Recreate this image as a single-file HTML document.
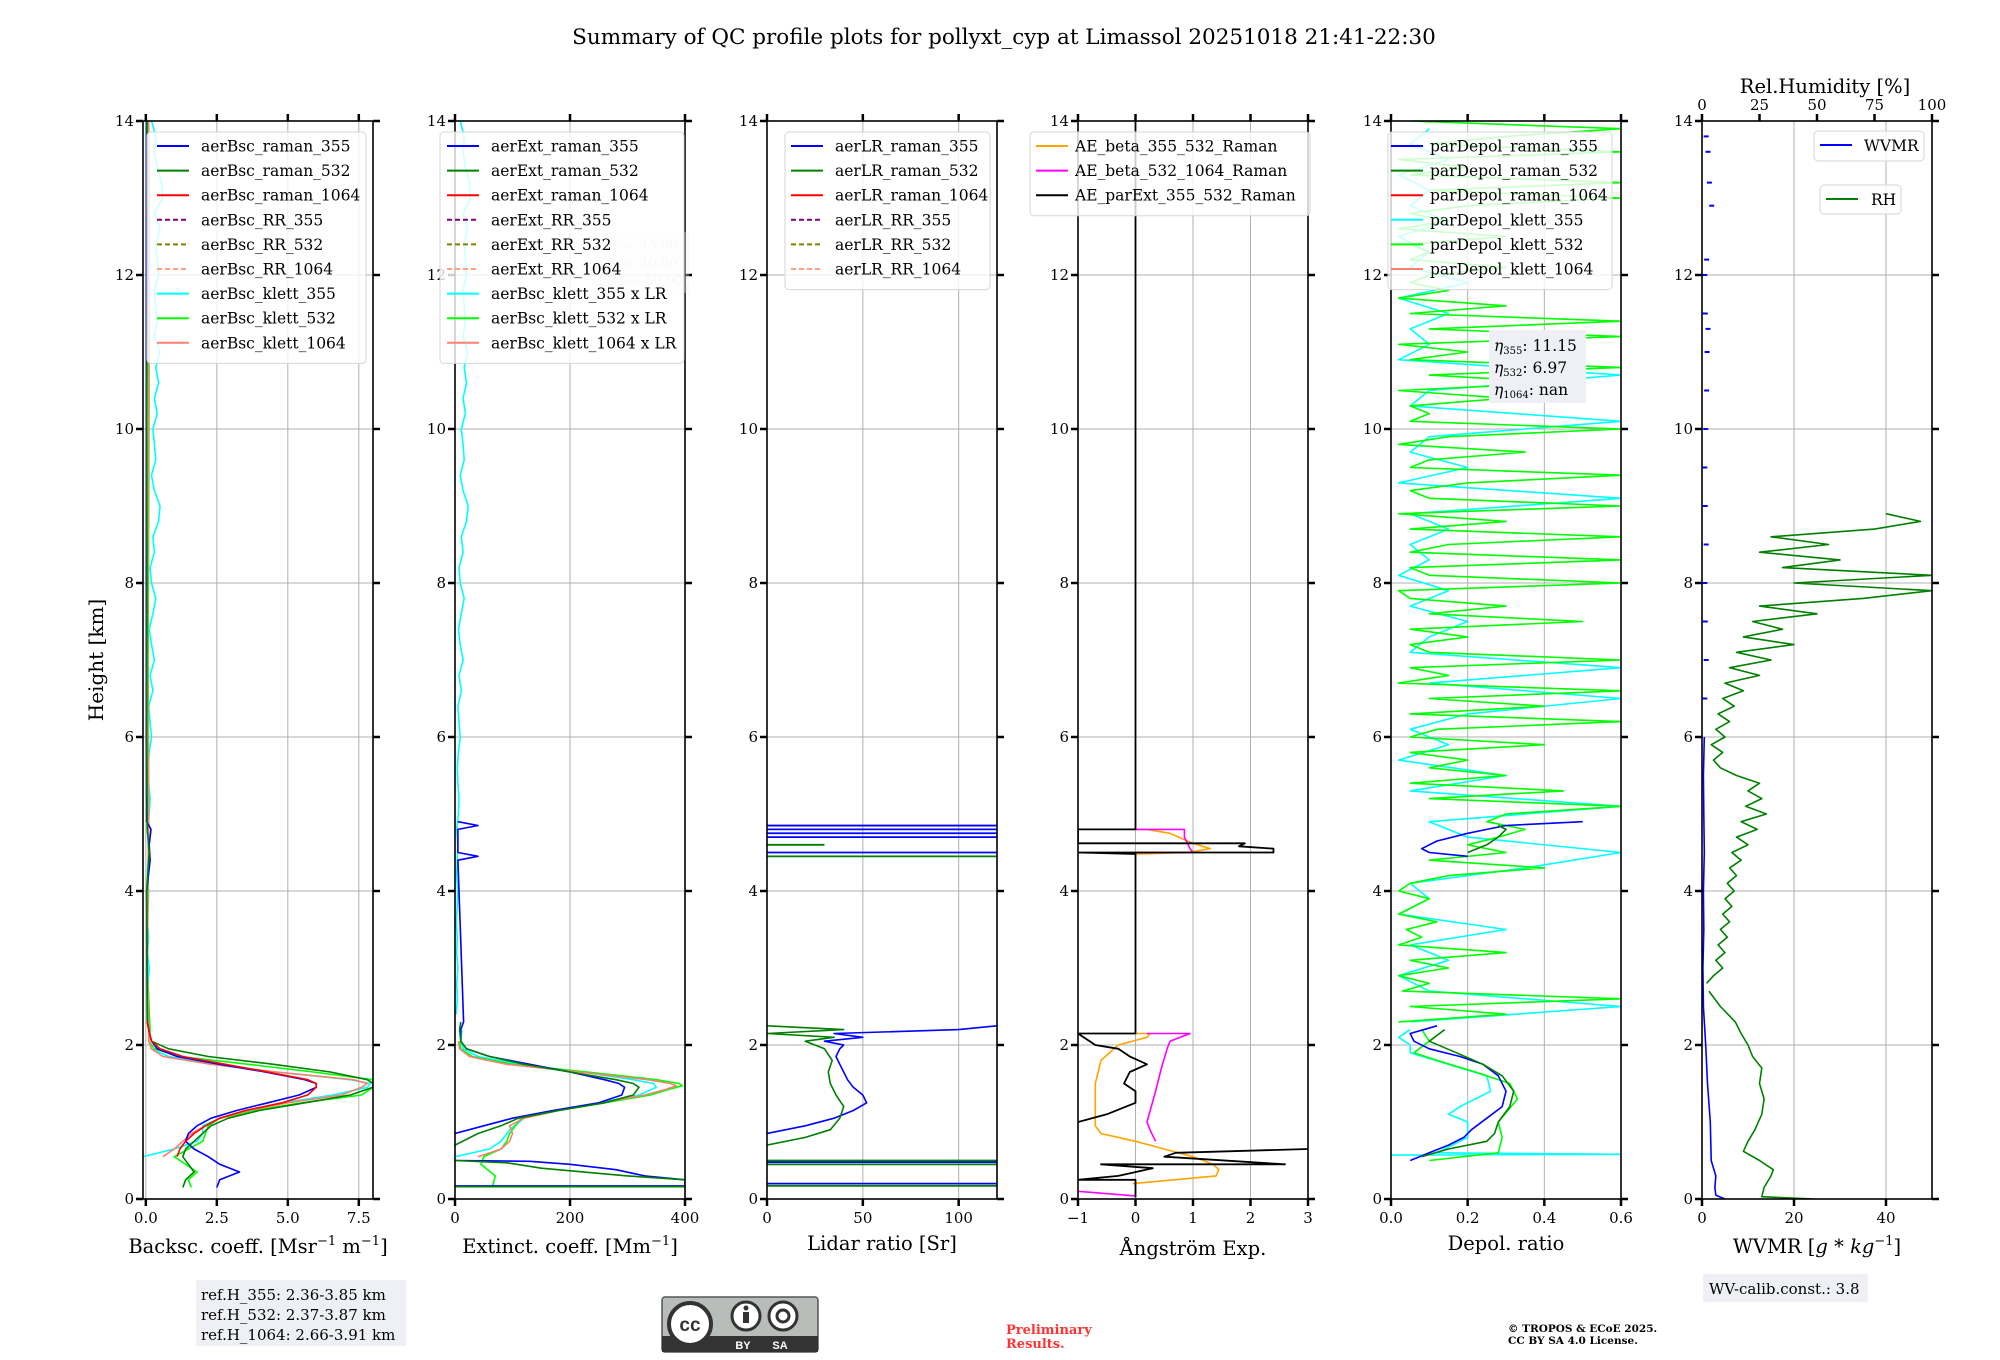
<!DOCTYPE html>
<html><head><meta charset="utf-8"><style>
html,body{margin:0;padding:0;background:#fff}
svg{display:block;font-family:"DejaVu Serif","Liberation Serif",serif}
</style></head><body>
<svg id="chart" width="2000" height="1360" viewBox="0 0 2000 1360" xmlns="http://www.w3.org/2000/svg">
<rect width="2000" height="1360" fill="#fff"/>
<text x="1004" y="44" font-size="21.5" text-anchor="middle">Summary of QC profile plots for pollyxt_cyp at Limassol 20251018 21:41-22:30</text>
<text transform="translate(103,660) rotate(-90)" font-size="20" text-anchor="middle">Height [km]</text>
<g id="panels"></g>
<g>
<rect x="196" y="1280" width="210" height="66" fill="#eef0f5"/>
<text x="201" y="1300" font-size="15">ref.H_355: 2.36-3.85 km</text>
<text x="201" y="1320" font-size="15">ref.H_532: 2.37-3.87 km</text>
<text x="201" y="1340" font-size="15">ref.H_1064: 2.66-3.91 km</text>
</g>
<g>
<rect x="662" y="1297" width="156" height="55" rx="3" fill="#b9bdb9" stroke="#555" stroke-width="1.5"/>
<rect x="662" y="1336" width="156" height="16" fill="#333"/>
<circle cx="690" cy="1324" r="21" fill="#fff" stroke="#333" stroke-width="4"/>
<text x="690" y="1331" font-family="Liberation Sans,sans-serif" font-weight="bold" font-size="19" text-anchor="middle" fill="#333">cc</text>
<circle cx="746" cy="1316" r="14" fill="#fff" stroke="#333" stroke-width="3"/>
<rect x="743" y="1312" width="6" height="11" fill="#333"/><circle cx="746" cy="1308" r="2.5" fill="#333"/>
<circle cx="783" cy="1316" r="14" fill="#fff" stroke="#333" stroke-width="3"/>
<circle cx="783" cy="1316" r="6" fill="none" stroke="#333" stroke-width="3"/>
<text x="743" y="1349" font-family="Liberation Sans,sans-serif" font-weight="bold" font-size="11" fill="#fff" text-anchor="middle">BY</text>
<text x="780" y="1349" font-family="Liberation Sans,sans-serif" font-weight="bold" font-size="11" fill="#fff" text-anchor="middle">SA</text>
</g>
<text x="1006" y="1334" font-size="13" font-weight="bold" fill="#ff3333">Preliminary</text>
<text x="1006" y="1348" font-size="13" font-weight="bold" fill="#ff3333">Results.</text>
<text x="1508" y="1332" font-size="10.5" font-weight="bold">© TROPOS &amp; ECoE 2025.</text>
<text x="1508" y="1344" font-size="10.5" font-weight="bold">CC BY SA 4.0 License.</text>
<g>
<rect x="1703" y="1274" width="165" height="28" fill="#eef0f5"/>
<text x="1709" y="1294" font-size="15">WV-calib.const.: 3.8</text>
</g>
</svg>
<script>
// ---------- DATA ----------
const bscBlueH=[0.15,0.25,0.35,0.45,0.55,0.65,0.75,0.85,0.95,1.05,1.15,1.25,1.35,1.45,1.5,1.55,1.65,1.75,1.85,1.95,2.05,2.2,2.3,3,4,4.4,4.6,4.8,4.9,6,8,10,12,14];
const bscBlueV=[2.5,2.6,3.3,2.6,2.2,1.7,1.4,1.5,1.8,2.3,3.2,4.3,5.4,6.0,6.0,5.6,4.2,2.6,1.1,0.4,0.2,0.1,0.05,0.04,0.03,0.15,0.12,0.18,0.03,0.02,0.02,0.02,0.02,0.02];
const bscGreenH=[0.15,0.25,0.35,0.45,0.55,0.65,0.75,0.85,0.95,1.05,1.15,1.25,1.35,1.45,1.5,1.55,1.65,1.75,1.85,1.95,2.05,2.2,2.3,4,4.5,4.8,6,8,10,12,14];
const bscGreenV=[1.3,1.4,1.7,1.5,1.3,1.4,1.7,2.0,2.3,2.9,4.0,5.6,7.2,8.0,8.0,7.8,6.5,4.5,2.2,0.8,0.2,0.1,0.05,0.03,0.12,0.05,0.03,0.04,0.03,0.05,0.04];
const bscRedH=[0.55,0.65,0.75,0.85,0.95,1.05,1.15,1.25,1.35,1.45,1.5,1.55,1.65,1.75,1.85,1.95,2.05,2.2,2.3];
const bscRedV=[1.1,1.2,1.4,1.7,2.1,2.6,3.5,4.8,5.7,6.0,6.0,5.7,4.3,2.8,1.3,0.5,0.2,0.1,0.05];
const bscCyanH=[0.55,0.65,0.75,0.85,0.95,1.05,1.15,1.25,1.35,1.45,1.5,1.55,1.65,1.75,1.85,1.95,2.05,2.2];
const bscCyanV=[-0.1,1.0,1.8,2.0,2.0,2.6,3.6,4.8,6.6,7.8,7.9,7.2,4.6,2.4,0.8,0.2,0.1,0.1];
const bscLimeH=[0.15,0.25,0.35,0.45,0.55,0.65,0.75,0.85,0.95,1.05,1.15,1.25,1.35,1.45,1.5,1.55,1.65,1.75,1.85,1.95,2.05,2.2,3,5,7,9,11,13,14];
const bscLimeV=[1.6,1.5,1.8,1.4,1.0,1.5,2.0,2.1,2.2,2.6,3.8,5.5,7.6,8.0,8.0,8.0,5.9,3.6,1.2,0.3,0.1,0.15,0.05,0.1,0.08,0.1,0.12,0.1,0.08];
const bscSalmonH=[0.55,0.65,0.75,0.85,0.95,1.05,1.15,1.25,1.35,1.45,1.5,1.55,1.65,1.75,1.85,1.95,2.05,2.2,3,5,7,9,11,13,14];
const bscSalmonV=[0.6,1.0,1.3,1.6,2.1,2.6,3.6,5.0,6.9,7.6,7.8,7.3,4.6,2.3,0.6,0.2,0.1,0.1,0.05,0.1,0.06,0.08,0.1,0.12,0.1];
const noiseStartH=2.4, noiseStepH=0.2;
const bscCyanNoise=[0.05,0.1,0.08,0.12,0.06,0.1,0.05,0.08,0.1,0.06,0.08,0.1,0.05,0.12,0.15,0.1,0.08,0.12,0.2,0.15,0.1,0.25,0.15,0.3,0.2,0.12,0.25,0.35,0.2,0.15,0.3,0.25,0.45,0.5,0.3,0.2,0.35,0.3,0.25,0.4,0.3,0.45,0.35,0.5,0.3,0.4,0.35,0.3,0.45,0.4,0.35,0.5,0.3,0.6,0.55,0.4,0.3,0.35,0.2];
const extBlueH=[0.85,0.95,1.05,1.15,1.25,1.35,1.45,1.5,1.55,1.65,1.75,1.85,1.95,2.05,2.2,2.3,4.4,4.45,4.5,4.8,4.85,4.9];
const extBlueV=[0,50,100,170,250,290,295,285,260,200,130,60,20,10,10,15,5,40,5,5,40,5];
const extBlueLowH=[0.17,0.17,0.2,0.2,0.25,0.3,0.38,0.45,0.49,0.5];
const extBlueLowV=[0,400,400,400,400,330,280,200,130,0];
const extGreenH=[0.7,0.85,0.95,1.05,1.15,1.25,1.35,1.45,1.5,1.55,1.65,1.75,1.85,1.95,2.05,2.2,2.3];
const extGreenV=[0,40,80,110,180,260,310,320,310,280,200,120,60,20,10,8,10];
const extGreenLowH=[0.16,0.16,0.25,0.3,0.4,0.47,0.5];
const extGreenLowV=[0,400,400,300,150,90,0];
const extCyanH=[0.55,0.65,0.75,0.9,1.05,1.15,1.25,1.35,1.45,1.5,1.55,1.65,1.75,1.85,1.95,2.05,2.2];
const extCyanV=[0,60,80,95,120,180,250,320,350,345,310,220,110,40,15,10,12];
const extLimeH=[0.15,0.3,0.45,0.55,0.65,0.75,0.85,0.95,1.05,1.15,1.25,1.35,1.42,1.47,1.5,1.55,1.65,1.75,1.85,1.95,2.05];
const extLimeV=[65,70,45,50,80,90,95,105,115,180,260,340,370,395,390,350,230,100,30,10,8];
const extSalmonH=[0.55,0.65,0.75,0.85,0.95,1.05,1.15,1.25,1.35,1.42,1.47,1.5,1.55,1.65,1.75,1.85,1.95,2.05];
const extSalmonV=[40,80,95,100,95,120,180,255,330,365,385,375,335,215,90,25,8,6];
const extCyanNoise=[2,4,3,5,3,4,2,4,5,3,4,5,3,6,7,5,4,6,9,7,5,11,7,14,9,6,11,16,9,7,14,11,20,23,14,9,16,14,11,18,14,20,16,22,14,18,16,14,20,18,16,22,14,27,25,18,14,16,9];
const lrBlueH=[0.85,0.95,1.05,1.15,1.25,1.35,1.45,1.55,1.65,1.75,1.85,1.95,2.0,2.05,2.1,2.15,2.2,2.25];
const lrBlueV=[0,20,35,45,52,50,45,42,40,38,36,38,40,30,50,35,100,120];
const lrGreenH=[0.7,0.8,0.9,1.05,1.2,1.35,1.5,1.65,1.8,1.95,2.05,2.1,2.15,2.2,2.25];
const lrGreenV=[0,20,33,38,40,36,33,32,34,30,20,35,0,40,0];
const lrLineH=[0.17,0.2,0.45,0.48,0.5,4.45,4.5,4.6,4.7,4.75,4.8,4.85];
const lrLineV=[120,120,120,120,120,120,120,30,120,120,120,120];
const lrLineC=['#008000','#0000ff','#008000','#0000ff','#008000','#008000','#0000ff','#008000','#0000ff','#0000ff','#0000ff','#0000ff'];
const aeOrangeH=[0.2,0.3,0.38,0.45,0.55,0.65,0.75,0.85,0.95,1.2,1.5,1.8,2.0,2.1,2.15,2.15,null,4.48,4.5,4.55,4.62,4.7,4.75,4.8,4.8];
const aeOrangeV=[-0.05,1.4,1.45,1.35,1.0,0.5,0.0,-0.6,-0.7,-0.7,-0.7,-0.6,-0.3,0.2,0.25,0,null,0,0.9,1.3,1.0,0.75,0.6,0.2,0];
const aeMagentaH=[0.1,0.04,null,0.75,0.9,1.0,1.4,1.7,1.95,2.05,2.15,2.15,null,4.5,4.5,4.55,4.7,4.8,4.8];
const aeMagentaV=[-1,0,null,0.35,0.25,0.2,0.35,0.45,0.55,0.6,0.95,0.2,null,0,1.0,0.95,0.85,0.85,0];
const aeBlackH=[0.02,0.25,0.25,0.3,0.4,0.45,0.45,0.55,0.6,0.65,null,1.0,1.1,1.25,1.4,1.5,1.65,1.75,1.85,1.95,2.0,2.15,2.15,4.48,4.5,4.5,4.55,4.58,4.62,4.62,4.73,4.8,4.8,14];
const aeBlackV=[0,0,-1,-0.3,0.3,-0.6,2.6,0.5,0.7,3.0,null,-1,-0.5,0,0,-0.2,-0.1,0.2,-0.1,-0.3,-0.7,-1,0,0,-1,2.4,2.4,1.8,1.9,-1,-1,-1,0,0];
const dpBlueH=[0.5,0.6,0.7,0.8,0.9,1.05,1.2,1.4,1.6,1.75,1.85,1.95,2.05,2.15,2.25,null,4.45,4.5,4.55,4.65,4.75,4.8,4.85,4.9];
const dpBlueV=[0.05,0.1,0.15,0.19,0.21,0.25,0.29,0.3,0.28,0.24,0.18,0.1,0.06,0.05,0.12,null,0.2,0.1,0.08,0.12,0.2,0.25,0.3,0.5];
const dpGreenH=[0.55,0.65,0.75,0.85,1.0,1.2,1.4,1.6,1.75,1.9,2.05,2.2,null,4.5,4.6,4.7,4.8,4.85];
const dpGreenV=[0.08,0.15,0.25,0.27,0.28,0.31,0.32,0.29,0.24,0.17,0.1,0.14,null,0.2,0.25,0.28,0.3,0.28];
const dpCyanH=[0.57,0.58,0.6,0.8,1.0,1.1,1.2,1.4,1.6,1.75,1.9,2.0,2.1,2.2];
const dpCyanV=[0.0,0.6,0.12,0.2,0.2,0.15,0.18,0.26,0.25,0.15,0.05,0.05,0.02,0.05];
const dpLimeH=[0.5,0.6,0.8,1.0,1.3,1.5,1.65,1.8,1.9,2.05,2.2];
const dpLimeV=[0.1,0.28,0.29,0.28,0.33,0.31,0.22,0.12,0.06,0.1,0.08];
const dpLimeStartH=2.3, dpLimeStepH=0.1;
const dpLimeNoise=[0.02,0.3,0.05,0.6,0.03,0.1,0.02,0.15,0.05,0.3,0.02,0.08,0.04,0.12,0.02,0.06,0.1,0.02,0.05,0.15,0.4,0.1,0.3,0.2,0.28,0.35,0.25,0.3,0.6,0.1,0.45,0.05,0.3,0.1,0.2,0.05,0.4,0.05,0.12,0.6,0.05,0.4,0.1,0.6,0.02,0.15,0.05,0.6,0.1,0.05,0.2,0.05,0.5,0.1,0.3,0.05,0.02,0.6,0.1,0.05,0.6,0.05,0.15,0.6,0.05,0.3,0.02,0.6,0.1,0.05,0.2,0.6,0.05,0.1,0.35,0.02,0.15,0.6,0.05,0.1,0.05,0.3,0.02,0.45,0.1,0.6,0.05,0.2,0.02,0.6,0.1,0.6,0.05,0.3,0.02,0.15,0.05,0.1,0.3,0.05,0.1,0.05,0.3,0.02,0.15,0.05,0.2,0.6,0.1,0.6,0.05,0.2,0.02,0.6,0.1,0.3,0.6,0.05];
const dpCyanStartH=2.3, dpCyanStepH=0.2;
const dpCyanNoise=[0.05,0.6,0.1,0.02,0.15,0.05,0.3,0.02,0.1,0.05,0.35,0.6,0.2,0.1,0.6,0.05,0.3,0.02,0.15,0.05,0.2,0.6,0.1,0.6,0.05,0.1,0.2,0.05,0.15,0.02,0.1,0.05,0.15,0.05,0.6,0.02,0.2,0.05,0.1,0.6,0.05,0.1,0.6,0.02,0.1,0.05,0.15,0.02,0.2,0.05,0.1,0.02,0.15,0.05,0.1,0.02,0.15,0.05,0.1];
const wvH=[0.0,0.05,0.15,0.3,0.5,1.0,1.5,2.0,2.5,3.0,3.5,4.0,4.5,5.0,5.5,6.0];
const wvV=[5,3,2.8,3,2,1.8,1.2,0.8,0.3,0.2,0.4,0.3,0.5,0.4,0.3,0.5];
const wvDotH=[6.5,7.0,7.5,8.0,8.5,9.0,9.5,10.0,10.5,11.0,11.3,11.5,12.0,12.2,12.9,13.2,13.6,13.8];
const wvDotV=[0.5,0.8,0.6,0.5,0.8,0.6,0.5,0.7,0.9,1.0,1.2,0.6,0.5,0.9,2.0,1.5,1.2,0.8];
const rhH=[0.0,0.03,0.15,0.3,0.38,0.5,0.62,0.75,0.9,1.1,1.3,1.5,1.7,1.85,2.0,2.15,2.3,2.5,2.7];
const rhV=[49,26,27,30,31,25,18,20,23,26,27,25,26,22,20,17,14.5,8,3];
const rhStartH=2.8, rhStepH=0.1;
const rhNoise=[2,5,9,6,10,7,11,8,12,9,13,10,14,11,15,12,17,13,20,15,24,17,28,19,26,20,25,15,8,5,9,4,10,6,12,7,14,9,18,10,25,12,30,15,40,18,35,22,50,25,70,100,40,100,35,60,25,55,30,75,95,80];

// ---------- LAYOUT ----------
const Y0=1199, KM=77, PW=230, PTOP=121;
const panelX=[143,455,767,1078,1391,1702];
const panelMin=[-0.1,0,0,-1,0,0];
const panelMax=[8.0,400,120,3,0.6,50];
const xTicks=[[0,2.5,5,7.5],[0,200,400],[0,50,100],[-1,0,1,2,3],[0,0.2,0.4,0.6],[0,20,40]];
const xTickLabels=[["0.0","2.5","5.0","7.5"],["0","200","400"],["0","50","100"],["−1","0","1","2","3"],["0.0","0.2","0.4","0.6"],["0","20","40"]];
const yTicks=[0,2,4,6,8,10,12,14];
const rhTicks=[0,25,50,75,100];

const NS="http://www.w3.org/2000/svg";
const root=document.getElementById('panels');
function el(tag,attrs,parent){const e=document.createElementNS(NS,tag);for(const k in attrs)e.setAttribute(k,attrs[k]);(parent||root).appendChild(e);return e;}
function yPix(h){return Y0-h*KM;}
function xPix(p,v){return panelX[p]+(v-panelMin[p])/(panelMax[p]-panelMin[p])*PW;}
function rhPix(v){return panelX[5]+v/100*PW;}
function pathFrom(p,H,V,xf){let d='',pen=false;for(let i=0;i<H.length;i++){if(H[i]===null||V[i]===null){pen=false;continue;}const x=xf?xf(V[i]):xPix(p,V[i]);d+=(pen?'L':'M')+x.toFixed(1)+','+yPix(H[i]).toFixed(1);pen=true;}return d;}
function noiseH(start,step,n){const a=[];for(let i=0;i<n;i++)a.push(+(start+i*step).toFixed(3));return a;}

const panelNames=['backscatter','extinction','lidar-ratio','angstrom','depol','wvmr'];
const axesGroups=[], plotGroups=[];
for(let p=0;p<6;p++){
  const g=el('g',{});
  
  
  const x0=panelX[p];
  const cp=el('clipPath',{id:'clip'+p},g);el('rect',{x:x0,y:PTOP,width:PW,height:Y0-PTOP},cp);
  yTicks.forEach(t=>{if(t>0&&t<14){const l=el('line',{x1:x0,x2:x0+PW,y1:yPix(t),y2:yPix(t),stroke:'#b0b0b0','stroke-width':1},g);}});
  xTicks[p].forEach(t=>{const x=xPix(p,t);if(x>x0+1&&x<x0+PW-1){const l=el('line',{x1:x,x2:x,y1:PTOP,y2:Y0,stroke:'#b0b0b0','stroke-width':1},g);}});
  const pg=el('g',{'clip-path':'url(#clip'+p+')'},g);
  plotGroups.push(pg);axesGroups.push(g);
}
function line(p,H,V,color,name,w,xf){const e=el('path',{d:pathFrom(p,H,V,xf),fill:'none',stroke:color,'stroke-width':w||1.6,'stroke-linejoin':'round'},plotGroups[p]);return e;}

line(0,noiseH(noiseStartH,noiseStepH,bscCyanNoise.length),bscCyanNoise,'#00ffff','bsc-klett-355-noise');
line(0,bscCyanH,bscCyanV,'#00ffff','bsc-klett-355');
line(0,bscLimeH,bscLimeV,'#00ff00','bsc-klett-532');
line(0,bscSalmonH,bscSalmonV,'#fa8072','bsc-klett-1064');
line(0,bscBlueH,bscBlueV,'#0000ff','bsc-raman-355');
line(0,bscGreenH,bscGreenV,'#008000','bsc-raman-532');
line(0,bscRedH,bscRedV,'#ff0000','bsc-raman-1064');
line(1,noiseH(noiseStartH,noiseStepH,extCyanNoise.length),extCyanNoise,'#00ffff','ext-klett-355-noise');
line(1,extCyanH,extCyanV,'#00ffff','ext-klett-355');
line(1,extLimeH,extLimeV,'#00ff00','ext-klett-532');
line(1,extSalmonH,extSalmonV,'#fa8072','ext-klett-1064');
line(1,extBlueH,extBlueV,'#0000ff','ext-raman-355');
line(1,extBlueLowH,extBlueLowV,'#0000ff','ext-raman-355-low');
line(1,extGreenH,extGreenV,'#008000','ext-raman-532');
line(1,extGreenLowH,extGreenLowV,'#008000','ext-raman-532-low');
line(2,lrBlueH,lrBlueV,'#0000ff','lr-raman-355');
line(2,lrGreenH,lrGreenV,'#008000','lr-raman-532');
for(let i=0;i<lrLineH.length;i++){const e=el('line',{x1:xPix(2,0),x2:xPix(2,lrLineV[i]),y1:yPix(lrLineH[i]),y2:yPix(lrLineH[i]),stroke:lrLineC[i],'stroke-width':1.8},plotGroups[2]);}
line(3,aeOrangeH,aeOrangeV,'#ffa500','ae-beta-355-532');
line(3,aeMagentaH,aeMagentaV,'#ff00ff','ae-beta-532-1064');
line(3,aeBlackH,aeBlackV,'#000000','ae-parext-355-532',1.8);
line(4,noiseH(dpCyanStartH,dpCyanStepH,dpCyanNoise.length),dpCyanNoise,'#00ffff','depol-klett-355-noise');
line(4,noiseH(dpLimeStartH,dpLimeStepH,dpLimeNoise.length),dpLimeNoise,'#00ff00','depol-klett-532-noise');
line(4,dpCyanH,dpCyanV,'#00ffff','depol-klett-355');
line(4,dpLimeH,dpLimeV,'#00ff00','depol-klett-532');
line(4,dpBlueH,dpBlueV,'#0000ff','depol-raman-355');
line(4,dpGreenH,dpGreenV,'#008000','depol-raman-532');
line(5,wvH,wvV,'#0000ff','wvmr-line');
for(let i=0;i<wvDotH.length;i++){const e=el('line',{x1:xPix(5,wvDotV[i])-2,x2:xPix(5,wvDotV[i])+3,y1:yPix(wvDotH[i]),y2:yPix(wvDotH[i]),stroke:'#0000ff','stroke-width':2},plotGroups[5]);}
line(5,rhH,rhV,'#008000','rh-line',1.6,rhPix);
line(5,noiseH(rhStartH,rhStepH,rhNoise.length),rhNoise,'#008000','rh-upper',1.6,rhPix);

for(let p=0;p<6;p++){
  const g=axesGroups[p], x0=panelX[p];
  const fr=el('rect',{x:x0,y:PTOP,width:PW,height:Y0-PTOP,fill:'none',stroke:'#000','stroke-width':1.6},g);
  
  yTicks.forEach(t=>{
    const y=yPix(t);
    el('line',{x1:x0-7,x2:x0,y1:y,y2:y,stroke:'#000','stroke-width':2.5},g);
    el('line',{x1:x0+PW,x2:x0+PW+7,y1:y,y2:y,stroke:'#000','stroke-width':2.5},g);
    const tl=el('text',{x:x0-9,y:y+5,'font-size':15,'text-anchor':'end'},g);tl.textContent=t;
    
  });
  xTicks[p].forEach((t,i)=>{
    const x=xPix(p,t);
    el('line',{x1:x,x2:x,y1:Y0,y2:Y0+7,stroke:'#000','stroke-width':2.5},g);
    if(p<5) el('line',{x1:x,x2:x,y1:PTOP-7,y2:PTOP,stroke:'#000','stroke-width':2.5},g);
    const tl=el('text',{x:x,y:Y0+24,'font-size':15,'text-anchor':'middle'},g);tl.textContent=xTickLabels[p][i];
    
  });
}
rhTicks.forEach(t=>{const x=rhPix(t);el('line',{x1:x,x2:x,y1:PTOP-7,y2:PTOP,stroke:'#000','stroke-width':2.5},axesGroups[5]);const tl=el('text',{x:x,y:PTOP-11,'font-size':15,'text-anchor':'middle'},axesGroups[5]);tl.textContent=t;});
</script>
<script>
(function(){
const svg=document.getElementById('chart');
const NS="http://www.w3.org/2000/svg";
function add(html){const g=document.createElementNS(NS,'g');g.innerHTML=html;svg.appendChild(g);return g;}
add(`
<text x="258" y="1253" font-size="19.5" text-anchor="middle">Backsc. coeff. [Msr<tspan dy="-8" font-size="13">−1</tspan><tspan dy="8"> m</tspan><tspan dy="-8" font-size="13">−1</tspan><tspan dy="8">]</tspan></text>
<text x="570" y="1253" font-size="19.5" text-anchor="middle">Extinct. coeff. [Mm<tspan dy="-8" font-size="13">−1</tspan><tspan dy="8">]</tspan></text>
<text x="882" y="1250" font-size="19.5" text-anchor="middle">Lidar ratio [Sr]</text>
<text x="1193" y="1255" font-size="19.5" text-anchor="middle">Ångström Exp.</text>
<text x="1506" y="1250" font-size="19.5" text-anchor="middle">Depol. ratio</text>
<text x="1817" y="1253" font-size="19.5" text-anchor="middle">WVMR [<tspan font-style="italic">g</tspan> * <tspan font-style="italic">kg</tspan><tspan dy="-8" font-size="13">−1</tspan><tspan dy="8">]</tspan></text>
<text x="1825" y="93" font-size="19.5" text-anchor="middle">Rel.Humidity [%]</text>
<g opacity="0.35"><rect x="594" y="232" width="95" height="61" fill="#eef0f5"/>
<text x="598" y="249" font-size="13" fill="#888">LR<tspan font-size="8">355</tspan>: 45.00</text>
<text x="598" y="267" font-size="13" fill="#888">LR<tspan font-size="8">532</tspan>: 40.00</text>
<text x="598" y="285" font-size="13" fill="#888">LR<tspan font-size="8">1064</tspan>: 50.00</text></g>
<g><rect x="1489" y="330" width="97" height="73" fill="#eef0f5"/>
<text x="1494" y="351" font-size="15.5"><tspan font-style="italic">η</tspan><tspan font-size="10" dy="3">355</tspan><tspan dy="-3">: 11.15</tspan></text>
<text x="1494" y="373" font-size="15.5"><tspan font-style="italic">η</tspan><tspan font-size="10" dy="3">532</tspan><tspan dy="-3">: 6.97</tspan></text>
<text x="1494" y="395" font-size="15.5"><tspan font-style="italic">η</tspan><tspan font-size="10" dy="3">1064</tspan><tspan dy="-3">: nan</tspan></text></g>
`);
function legend(name,x,y,w,entries,lineX,textX){
  let s=`<g><rect x="${x}" y="${y}" width="${w}" height="${entries.length*24.6+10}" rx="4" fill="#fff" fill-opacity="0.8" stroke="#d6d6d6"/>`;
  entries.forEach((e,i)=>{const cy=y+14+i*24.6;
    s+=`<line x1="${lineX}" x2="${lineX+32}" y1="${cy}" y2="${cy}" stroke="${e[1]}" stroke-width="2" ${e[2]?'stroke-dasharray="5,3"':''}/>`;
    s+=`<text x="${textX}" y="${cy+5.5}" font-size="15.5">${e[0]}</text>`;});
  return add(s+'</g>');
}
const c={b:'#0000ff',g:'#008000',r:'#ff0000',pu:'#800080',ol:'#808000',ls:'#ffa07a',cy:'#00ffff',li:'#00ff00',sa:'#fa8072'};
legend('legend-bsc',147,132,219,[['aerBsc_raman_355',c.b],['aerBsc_raman_532',c.g],['aerBsc_raman_1064',c.r],['aerBsc_RR_355',c.pu,1],['aerBsc_RR_532',c.ol,1],['aerBsc_RR_1064',c.ls,1],['aerBsc_klett_355',c.cy],['aerBsc_klett_532',c.li],['aerBsc_klett_1064',c.sa]],157,201);
legend('legend-ext',440,132,244,[['aerExt_raman_355',c.b],['aerExt_raman_532',c.g],['aerExt_raman_1064',c.r],['aerExt_RR_355',c.pu,1],['aerExt_RR_532',c.ol,1],['aerExt_RR_1064',c.ls,1],['aerBsc_klett_355 x LR',c.cy],['aerBsc_klett_532 x LR',c.li],['aerBsc_klett_1064 x LR',c.sa]],447,491);
legend('legend-lr',785,132,205,[['aerLR_raman_355',c.b],['aerLR_raman_532',c.g],['aerLR_raman_1064',c.r],['aerLR_RR_355',c.pu,1],['aerLR_RR_532',c.ol,1],['aerLR_RR_1064',c.ls,1]],791,835);
legend('legend-ae',1030,132,280,[['AE_beta_355_532_Raman','#ffa500'],['AE_beta_532_1064_Raman','#ff00ff'],['AE_parExt_355_532_Raman','#000000']],1036,1075);
legend('legend-depol',1388,132,224,[['parDepol_raman_355',c.b],['parDepol_raman_532',c.g],['parDepol_raman_1064',c.r],['parDepol_klett_355',c.cy],['parDepol_klett_532',c.li],['parDepol_klett_1064',c.sa]],1391,1430);
add(`<g><rect x="1814" y="131" width="110" height="30" rx="4" fill="#fff" fill-opacity="0.8" stroke="#d6d6d6"/><line x1="1820" x2="1852" y1="145" y2="145" stroke="#0000ff" stroke-width="2"/><text x="1864" y="151" font-size="15.5">WVMR</text></g>
<g><rect x="1820" y="185" width="81" height="29" rx="4" fill="#fff" fill-opacity="0.8" stroke="#d6d6d6"/><line x1="1826" x2="1858" y1="199" y2="199" stroke="#008000" stroke-width="2"/><text x="1871" y="205" font-size="15.5">RH</text></g>`);
})();
</script>
</body></html>
